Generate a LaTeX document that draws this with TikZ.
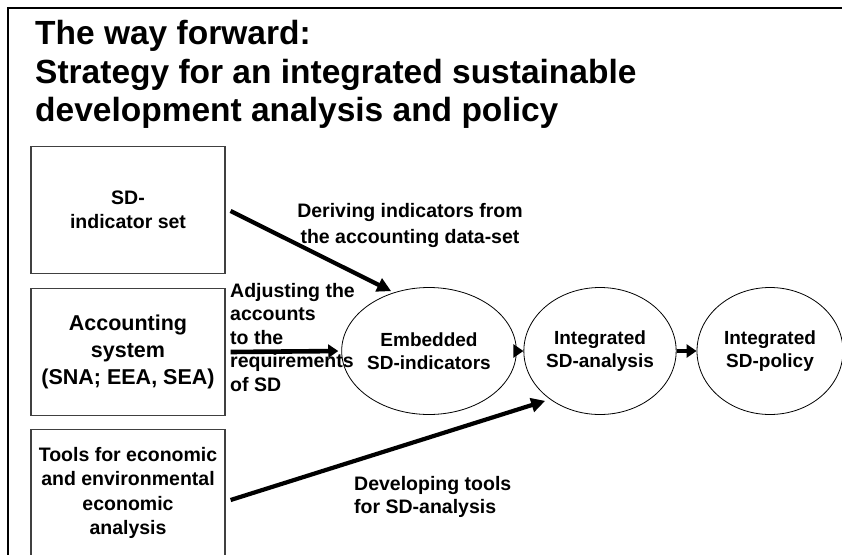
\documentclass[tikz,border=0pt]{standalone}
\usepackage{fontspec}
\setmainfont{Liberation Sans}
\usetikzlibrary{arrows.meta,shapes.geometric}

\tikzset{
  srcbox/.style={draw=black!75, line width=1.2pt, minimum width=194pt,
    minimum height=127pt, align=center, inner sep=0pt,
    font=\fontsize{19.5}{24}\selectfont\bfseries},
  stage/.style={draw, ellipse, line width=0.8pt, minimum width=146pt,
    minimum height=127pt, inner sep=0pt, align=center,
    font=\fontsize{19}{23}\selectfont\bfseries},
  fatarrow/.style={line width=4.2pt, -{Triangle[length=14pt,width=14pt]}},
  shortarrow/.style={line width=4.6pt, -{Triangle[length=10pt,width=13pt]}},
  lbl/.style={inner sep=0pt, font=\fontsize{19.5}{23.5}\selectfont\bfseries},
}

\begin{document}
\begin{tikzpicture}[x=1pt, y=-1pt]
  \useasboundingbox (0,0) rectangle (842,554);
  % frame
  \draw[line width=2pt] (8,600) -- (8,7.5) -- (900,7.5);
  % title
  \node[anchor=north west, align=left, inner sep=0pt,
        font=\fontsize{33.5}{38.5}\selectfont\bfseries] (title) at (35,20.5)
    {The way forward:\\Strategy for an integrated sustainable\\development analysis and policy};
  % source boxes
  \node[srcbox] (sdind) at (128,210) {SD-\\indicator set};
  \node[srcbox, font=\fontsize{21.5}{27}\selectfont\bfseries] (accsys) at (128,352)
    {Accounting\\system\\(SNA; EEA, SEA)};
  \node[srcbox, font=\fontsize{19.5}{24.3}\selectfont\bfseries] (tools) at (128,493)
    {Tools for economic\\and environmental\\economic\\analysis};
  % stages
  \node[stage] (embed) at (429,351) {Embedded\\SD-indicators};
  \node[stage] (anal) at (600,351) {Integrated\\SD-analysis};
  \node[stage] (policy) at (770,351) {Integrated\\SD-policy};
  % arrows into the stages
  \draw[fatarrow, shorten >=3pt] ([xshift=5pt, yshift=-1pt]sdind.east) -- (embed.121);
  \draw[shortarrow, shorten >=3pt] ([xshift=5pt]accsys.east) -- (embed.west);
  \draw[fatarrow, shorten >=5pt] ([xshift=5pt, yshift=-7pt]tools.east) -- (anal.224);
  \foreach \a/\b in {embed/anal, anal/policy}{
    \draw[shortarrow] (\a.east) -- (\b.west);
  }
  % labels
  \node[lbl, anchor=north, align=center, font=\fontsize{19.5}{26}\selectfont\bfseries]
    (derlbl) at (410,203) {Deriving indicators from\\the accounting data-set};
  \node[lbl, anchor=north west, align=left] (adjlbl) at (230,283)
    {Adjusting the\\accounts\\to the\\requirements\\of SD};
  \node[lbl, anchor=north west, align=left, font=\fontsize{19.5}{23}\selectfont\bfseries]
    (devlbl) at (354,476) {Developing tools\\for SD-analysis};
\end{tikzpicture}
\end{document}
